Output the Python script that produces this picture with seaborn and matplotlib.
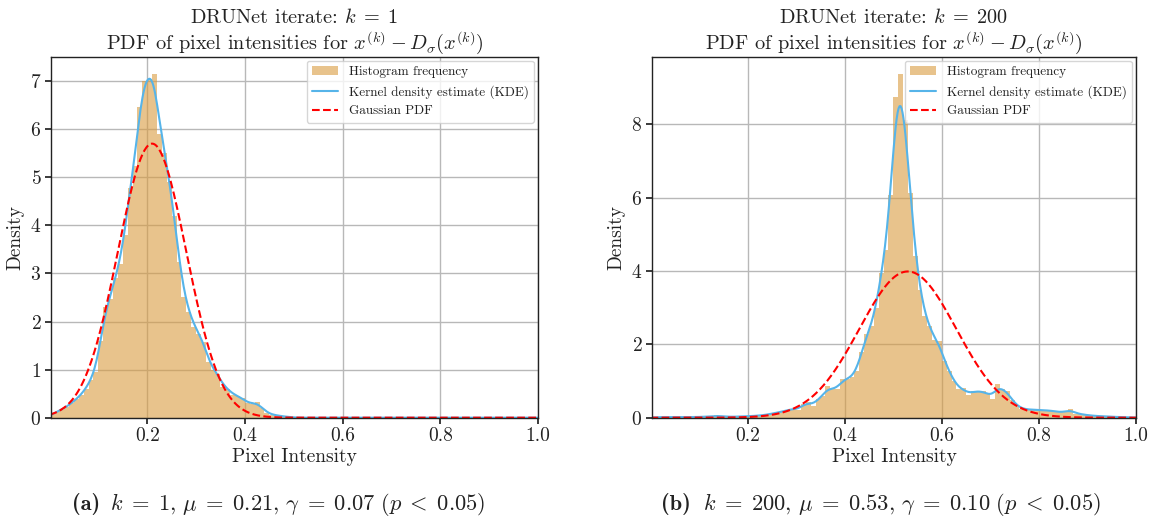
import numpy as np
import pandas as pd
import matplotlib
matplotlib.use("Agg")
import matplotlib.pyplot as plt
import seaborn as sns

# Histogram densities per 0.01-wide intensity bin, starting at 0.0
BIN_WIDTH = 0.01
density_k1 = [
    0.07, 0.12, 0.17, 0.22, 0.30, 0.38, 0.47, 0.60, 0.78, 0.95,
    1.60, 2.30, 2.47, 2.90, 3.20, 3.80, 4.78, 5.24, 6.47, 7.00,
    7.05, 7.15, 5.90, 5.50, 4.90, 4.20, 3.23, 2.50, 2.20, 1.89,
    1.75, 1.58, 1.16, 0.99, 0.90, 0.64, 0.60, 0.47, 0.45, 0.40,
    0.30, 0.28, 0.33, 0.20, 0.10, 0.06, 0.05, 0.03, 0.02, 0.01,
]
density_k200 = [
    0.010, 0.015, 0.015, 0.020, 0.015, 0.015, 0.020, 0.015, 0.015, 0.020,
    0.020, 0.030, 0.030, 0.060, 0.040, 0.030, 0.020, 0.030, 0.030, 0.040,
    0.04, 0.05, 0.06, 0.07, 0.10, 0.12, 0.15, 0.18, 0.22, 0.25,
    0.20, 0.38, 0.42, 0.32, 0.50, 0.60, 0.86, 0.77, 0.77, 1.06,
    1.06, 1.10, 1.27, 1.80, 2.27, 2.50, 3.00, 3.94, 4.58, 6.07,
    8.75, 9.38, 8.13, 6.12, 4.40, 3.49, 2.77, 2.49, 2.13, 2.09,
    1.54, 1.27, 1.00, 0.78, 0.80, 0.62, 0.72, 0.73, 0.72, 0.65,
    0.52, 0.93, 0.77, 0.73, 0.47, 0.31, 0.25, 0.22, 0.22, 0.22,
    0.20, 0.20, 0.20, 0.16, 0.15, 0.15, 0.25, 0.11, 0.10, 0.08,
    0.06, 0.05, 0.04, 0.04, 0.03, 0.02, 0.02, 0.015, 0.01, 0.01,
]

# Fitted Gaussian parameters and iterate numbers
iterates = [1, 200]
mu_values = [0.21, 0.53]
gamma_values = [0.07, 0.10]
panel_tags = ["(a)", "(b)"]
mu_labels = ["0.21", "0.53"]
gamma_labels = ["0.07", "0.10"]

legend_labels = ["Histogram frequency", "Kernel density estimate (KDE)", "Gaussian PDF"]

HIST_COLOR = "#D99B3F"
KDE_COLOR = "#56B4E9"
GAUSS_COLOR = "#FF0000"

sns.set_theme(style="whitegrid")
plt.rcParams.update({
    "font.family": ["cmr10"],
    "mathtext.fontset": "cm",
    "axes.formatter.use_mathtext": True,
    "axes.edgecolor": "#222222",
    "axes.linewidth": 1.0,
    "axes.unicode_minus": False,
    "grid.color": "#b8b8b8",
    "grid.linewidth": 1.0,
    "xtick.bottom": True,
    "ytick.left": True,
    "xtick.major.size": 4,
    "ytick.major.size": 4,
    "xtick.color": "#222222",
    "ytick.color": "#222222",
    "text.color": "#222222",
    "axes.labelcolor": "#222222",
})

fig = plt.figure(figsize=(11.56, 5.21), dpi=100)
axes = [
    fig.add_axes([0.0441, 0.1983, 0.4213, 0.6929]),
    fig.add_axes([0.5640, 0.1983, 0.4187, 0.6929]),
]
tag_right = [0.0865, 0.5978]
caption_left = [0.0952, 0.6081]
CAPTION_Y = 0.0326

for ax, dens, k, mu, gam, tag, mu_s, gam_s, tx, cx, bw in zip(
        axes, [density_k1, density_k200], iterates, mu_values, gamma_values,
        panel_tags, mu_labels, gamma_labels, tag_right, caption_left,
        [0.26, 0.18]):
    n_bins = len(dens)
    centers = (np.arange(n_bins) + 0.5) * BIN_WIDTH
    df = pd.DataFrame({"intensity": centers, "density": dens})

    sns.histplot(data=df, x="intensity", weights="density",
                 binwidth=BIN_WIDTH, binrange=(0, n_bins * BIN_WIDTH),
                 stat="count", color=HIST_COLOR, alpha=0.6, linewidth=0,
                 ax=ax, label=legend_labels[0])
    sns.kdeplot(data=df, x="intensity", weights="density", bw_adjust=bw,
                cut=100, clip=(0, 1), gridsize=500, color=KDE_COLOR,
                linewidth=1.5, ax=ax, label=legend_labels[1])
    xs = np.linspace(0, 1, 500)
    pdf = np.exp(-0.5 * ((xs - mu) / gam) ** 2) / (gam * np.sqrt(2 * np.pi))
    sns.lineplot(x=xs, y=pdf, color=GAUSS_COLOR, linestyle="--",
                 linewidth=1.5, ax=ax, label=legend_labels[2])

    ax.set_xlim(0.003, 1.0)
    ax.set_xticks([0.2, 0.4, 0.6, 0.8, 1.0])
    ax.set_xticklabels(["0.2", "0.4", "0.6", "0.8", "1.0"])
    ax.tick_params(labelsize=14, pad=3)
    ax.set_xlabel("Pixel Intensity", fontsize=14, labelpad=2)
    ax.set_ylabel("Density", fontsize=14, labelpad=4)
    ax.set_title(rf"DRUNet iterate: $k\;=\;{k}$" "\n"
                 r"PDF of pixel intensities for $x^{(k)} - D_\sigma(x^{(k)})$",
                 fontsize=14.6, linespacing=1.12, pad=5)
    for s in ax.spines.values():
        s.set_visible(True)
        s.set_color("#222222")

    handles, labels = ax.get_legend_handles_labels()
    lookup = dict(zip(labels, handles))
    ax.legend([lookup[l] for l in legend_labels], legend_labels,
              loc="upper right", fontsize=9.5, borderaxespad=0.3,
              frameon=True, framealpha=0.8, edgecolor="#cccccc", fancybox=True)

    # sub-figure caption: bold tag followed by the fit summary
    fig.text(tx, CAPTION_Y, tag, family="cmb10", ha="right", va="center",
             fontsize=16.2)
    fig.text(cx, CAPTION_Y,
             rf"$k\;=\;{k},\,\mu\;=\;{mu_s},\,\gamma\;=\;{gam_s}\ (p\;<\;0.05)$",
             ha="left", va="center", fontsize=16.2)

fig.savefig("out.png", dpi=100)
